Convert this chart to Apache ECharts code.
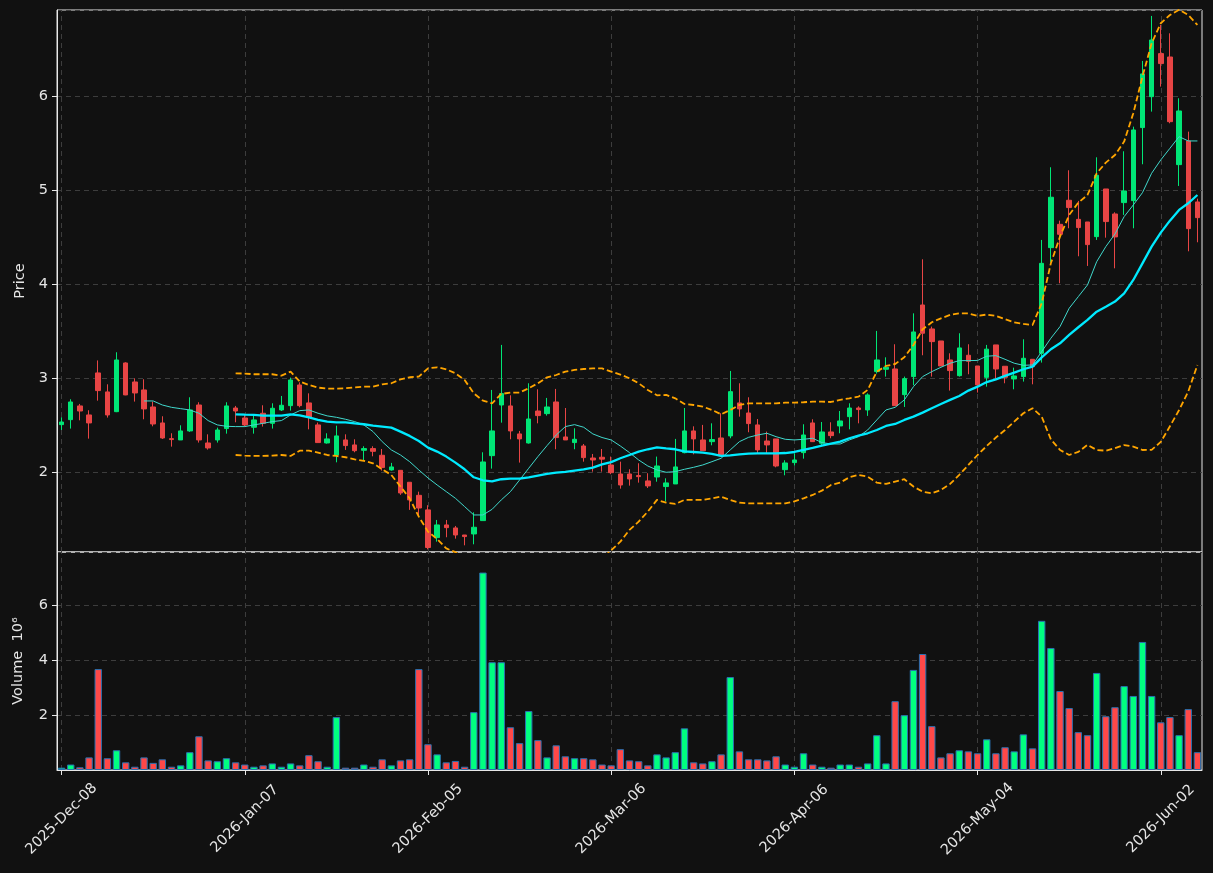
<!DOCTYPE html>
<html><head><meta charset="utf-8">
<script src="https://cdn.jsdelivr.net/npm/echarts@6/dist/echarts.min.js"></script>
<style>html,body{margin:0;padding:0;background:#111111;}#c{width:1213px;height:873px;}</style>
</head><body><div id="c"></div>
<script>
const dates = [
"2025-Dec-08","2025-Dec-09","2025-Dec-10","2025-Dec-11","2025-Dec-12","2025-Dec-15","2025-Dec-16","2025-Dec-17","2025-Dec-18","2025-Dec-19",
"2025-Dec-22","2025-Dec-23","2025-Dec-24","2025-Dec-26","2025-Dec-29","2025-Dec-30","2025-Dec-31","2026-Jan-02","2026-Jan-05","2026-Jan-06",
"2026-Jan-07","2026-Jan-08","2026-Jan-09","2026-Jan-12","2026-Jan-13","2026-Jan-14","2026-Jan-15","2026-Jan-16","2026-Jan-20","2026-Jan-21",
"2026-Jan-22","2026-Jan-23","2026-Jan-26","2026-Jan-27","2026-Jan-28","2026-Jan-29","2026-Jan-30","2026-Feb-02","2026-Feb-03","2026-Feb-04",
"2026-Feb-05","2026-Feb-06","2026-Feb-09","2026-Feb-10","2026-Feb-11","2026-Feb-12","2026-Feb-13","2026-Feb-17","2026-Feb-18","2026-Feb-19",
"2026-Feb-20","2026-Feb-23","2026-Feb-24","2026-Feb-25","2026-Feb-26","2026-Feb-27","2026-Mar-02","2026-Mar-03","2026-Mar-04","2026-Mar-05",
"2026-Mar-06","2026-Mar-09","2026-Mar-10","2026-Mar-11","2026-Mar-12","2026-Mar-13","2026-Mar-16","2026-Mar-17","2026-Mar-18","2026-Mar-19",
"2026-Mar-20","2026-Mar-23","2026-Mar-24","2026-Mar-25","2026-Mar-26","2026-Mar-27","2026-Mar-30","2026-Mar-31","2026-Apr-01","2026-Apr-02",
"2026-Apr-06","2026-Apr-07","2026-Apr-08","2026-Apr-09","2026-Apr-10","2026-Apr-13","2026-Apr-14","2026-Apr-15","2026-Apr-16","2026-Apr-17",
"2026-Apr-20","2026-Apr-21","2026-Apr-22","2026-Apr-23","2026-Apr-24","2026-Apr-27","2026-Apr-28","2026-Apr-29","2026-Apr-30","2026-May-01",
"2026-May-04","2026-May-05","2026-May-06","2026-May-07","2026-May-08","2026-May-11","2026-May-12","2026-May-13","2026-May-14","2026-May-15",
"2026-May-18","2026-May-19","2026-May-20","2026-May-21","2026-May-22","2026-May-26","2026-May-27","2026-May-28","2026-May-29","2026-Jun-01",
"2026-Jun-02","2026-Jun-03","2026-Jun-04","2026-Jun-05","2026-Jun-08"];

// dates that carry a tick label / vertical grid line
const tickDates = ["2025-Dec-08","2026-Jan-07","2026-Feb-05","2026-Mar-06","2026-Apr-06","2026-May-04","2026-Jun-02"];

const opens = [
2.507,2.56,2.706,2.61,3.057,2.855,2.645,3.163,2.961,2.876,
2.695,2.525,2.358,2.344,2.44,2.716,2.312,2.344,2.465,2.684,
2.578,2.479,2.628,2.521,2.663,2.709,2.929,2.738,2.504,2.312,
2.184,2.344,2.291,2.234,2.252,2.181,2.025,2.021,1.894,1.755,
1.6,1.305,1.44,1.408,1.333,1.344,1.486,2.177,2.716,2.706,
2.408,2.312,2.652,2.624,2.748,2.376,2.316,2.28,2.152,2.16,
2.078,1.982,1.982,1.965,1.908,1.95,1.848,1.876,2.209,2.44,
2.344,2.326,2.365,2.387,2.738,2.631,2.504,2.333,2.355,2.028,
2.103,2.209,2.525,2.309,2.429,2.493,2.592,2.684,2.663,3.071,
3.096,3.099,2.826,3.018,3.78,3.525,3.397,3.195,3.028,3.245,
3.131,3.01,3.355,3.128,2.993,3.018,3.202,3.266,4.39,4.638,
4.894,4.691,4.663,4.507,5.014,4.748,4.869,4.89,5.667,5.996,
6.454,6.418,5.273,5.525,4.876];
const closes = [
2.535,2.748,2.652,2.525,2.869,2.61,3.195,2.823,2.844,2.674,
2.514,2.365,2.348,2.44,2.663,2.344,2.259,2.45,2.706,2.652,
2.504,2.557,2.521,2.681,2.713,2.982,2.709,2.585,2.316,2.355,
2.387,2.284,2.23,2.252,2.223,2.05,2.057,1.78,1.706,1.62,
1.2,1.44,1.411,1.333,1.316,1.415,2.11,2.44,2.837,2.44,
2.355,2.567,2.603,2.695,2.369,2.344,2.351,2.156,2.131,2.14,
1.996,1.865,1.929,1.954,1.855,2.067,1.887,2.057,2.44,2.355,
2.23,2.348,2.174,2.858,2.674,2.518,2.238,2.291,2.067,2.099,
2.131,2.397,2.326,2.429,2.39,2.546,2.684,2.667,2.823,3.195,
3.117,2.709,2.996,3.493,3.479,3.39,3.131,3.082,3.323,3.181,
2.929,3.31,3.099,3.011,3.025,3.213,3.124,4.223,4.926,4.532,
4.816,4.603,4.422,5.16,4.667,4.504,4.993,5.642,6.238,6.599,
6.348,5.73,5.844,4.592,4.709];
const lows = [
2.45,2.465,2.553,2.358,2.762,2.582,2.64,2.82,2.752,2.564,
2.489,2.355,2.273,2.344,2.43,2.316,2.241,2.316,2.411,2.532,
2.486,2.411,2.486,2.465,2.652,2.656,2.691,2.457,2.316,2.305,
2.106,2.238,2.213,2.128,2.17,2.018,2.018,1.76,1.6,1.54,
1.18,1.262,1.309,1.294,1.223,1.234,1.486,2.039,2.528,2.351,
2.103,2.305,2.521,2.603,2.245,2.344,2.245,2.113,2.007,2.007,
1.98,1.826,1.858,1.89,1.833,1.9,1.691,1.876,2.202,2.191,
2.23,2.287,2.174,2.362,2.592,2.426,2.202,2.202,2.053,1.968,
2.071,2.145,2.326,2.291,2.362,2.415,2.457,2.521,2.6,3.05,
3.018,2.709,2.695,2.926,3.245,3.018,3.131,2.869,3.018,3.043,
2.848,2.911,2.993,2.947,2.883,2.965,2.936,3.167,4.238,4.011,
4.596,4.298,4.195,4.472,4.496,4.17,4.738,4.596,5.277,5.837,
6.103,5.713,5.046,4.351,4.447];
const highs = [
2.585,2.777,2.727,2.66,3.19,2.936,3.277,3.17,3.0,2.99,
2.752,2.596,2.415,2.5,2.798,2.745,2.404,2.475,2.745,2.706,
2.613,2.6,2.713,2.734,2.812,3.007,2.957,2.84,2.529,2.415,
2.496,2.404,2.351,2.277,2.277,2.248,2.1,2.021,1.894,1.794,
1.65,1.493,1.493,1.429,1.333,1.574,2.213,2.876,3.355,2.819,
2.44,2.947,2.883,2.791,2.887,2.684,2.468,2.301,2.195,2.248,
2.167,2.113,2.032,2.096,1.99,2.167,1.936,2.355,2.684,2.489,
2.504,2.521,2.628,3.078,2.947,2.798,2.567,2.433,2.355,2.128,
2.202,2.511,2.564,2.535,2.532,2.652,2.734,2.702,2.84,3.504,
3.223,3.362,3.018,3.691,4.266,3.55,3.397,3.266,3.479,3.362,
3.131,3.355,3.355,3.128,3.113,3.415,3.202,4.472,5.245,4.677,
5.213,4.887,4.663,5.351,5.014,4.766,5.415,5.677,6.376,6.855,
6.759,6.67,5.979,5.624,4.911];

// volume in millions of shares
const volumes = [
0.085,0.2,0.1,0.46,3.68,0.43,0.72,0.28,0.12,0.46,
0.26,0.39,0.12,0.17,0.65,1.23,0.35,0.32,0.43,0.28,
0.2,0.12,0.17,0.24,0.12,0.24,0.17,0.54,0.32,0.12,
1.93,0.085,0.085,0.2,0.12,0.39,0.17,0.35,0.39,3.68,
0.94,0.57,0.28,0.33,0.12,2.11,7.2,3.93,3.93,1.56,
0.98,2.15,1.09,0.46,0.9,0.5,0.43,0.43,0.39,0.2,
0.17,0.76,0.35,0.32,0.17,0.57,0.46,0.65,1.52,0.28,
0.24,0.32,0.57,3.39,0.68,0.39,0.39,0.35,0.5,0.2,
0.12,0.61,0.2,0.12,0.085,0.2,0.2,0.12,0.24,1.27,
0.24,2.51,2.0,3.65,4.23,1.6,0.46,0.61,0.72,0.68,
0.61,1.12,0.61,0.83,0.68,1.3,0.79,5.44,4.45,2.88,
2.26,1.38,1.27,3.54,1.96,2.29,3.06,2.7,4.67,2.7,
1.74,1.93,1.27,2.22,0.65];

// moving-average / band lines
const ma10 = [
null,null,null,null,null,null,null,null,null,2.759,
2.759,2.716,2.691,2.677,2.663,2.628,2.55,2.504,2.489,2.486,
2.486,2.504,2.521,2.539,2.55,2.61,2.656,2.663,2.628,2.6,
2.585,2.564,2.539,2.504,2.433,2.326,2.238,2.184,2.113,2.025,
1.94,1.865,1.794,1.723,1.635,1.546,1.546,1.606,1.706,1.794,
1.918,2.043,2.167,2.284,2.397,2.486,2.507,2.479,2.408,2.37,
2.344,2.28,2.209,2.131,2.067,2.025,2.0,2.007,2.032,2.053,
2.078,2.113,2.149,2.238,2.326,2.372,2.397,2.415,2.379,2.351,
2.344,2.351,2.362,2.316,2.301,2.301,2.344,2.379,2.45,2.557,
2.663,2.691,2.77,2.911,3.018,3.071,3.117,3.16,3.188,3.188,
3.19,3.235,3.241,3.202,3.16,3.138,3.142,3.284,3.426,3.55,
3.745,3.869,3.993,4.24,4.401,4.535,4.72,4.844,4.975,5.181,
5.323,5.447,5.571,5.525,5.525];
const ma20 = [
null,null,null,null,null,null,null,null,null,null,
null,null,null,null,null,null,null,null,null,2.617,
2.613,2.61,2.603,2.603,2.603,2.617,2.606,2.585,2.557,2.539,
2.532,2.532,2.521,2.511,2.496,2.486,2.475,2.433,2.387,2.333,
2.262,2.22,2.167,2.103,2.032,1.947,1.915,1.904,1.926,1.933,
1.933,1.947,1.965,1.982,1.996,2.004,2.018,2.032,2.05,2.085,
2.108,2.149,2.184,2.22,2.245,2.266,2.255,2.245,2.223,2.216,
2.209,2.195,2.174,2.181,2.191,2.199,2.202,2.202,2.202,2.205,
2.216,2.238,2.259,2.284,2.305,2.326,2.362,2.39,2.415,2.45,
2.493,2.514,2.557,2.592,2.635,2.681,2.727,2.77,2.812,2.869,
2.911,2.96,2.989,3.025,3.06,3.096,3.124,3.223,3.309,3.372,
3.461,3.543,3.621,3.709,3.762,3.816,3.904,4.046,4.223,4.401,
4.55,4.677,4.791,4.862,4.95];
const bbUpper = [
null,null,null,null,null,null,null,null,null,null,
null,null,null,null,null,null,null,null,null,3.053,
3.05,3.043,3.043,3.043,3.028,3.071,2.965,2.929,2.901,2.89,
2.89,2.894,2.904,2.911,2.911,2.936,2.947,2.989,3.011,3.018,
3.106,3.117,3.096,3.053,2.982,2.84,2.762,2.734,2.833,2.848,
2.848,2.894,2.947,3.011,3.035,3.071,3.089,3.099,3.106,3.106,
3.071,3.04,3.0,2.947,2.876,2.819,2.823,2.787,2.727,2.716,
2.699,2.663,2.617,2.663,2.716,2.734,2.734,2.734,2.734,2.741,
2.741,2.745,2.752,2.752,2.748,2.77,2.787,2.805,2.876,3.071,
3.131,3.152,3.223,3.355,3.521,3.596,3.638,3.674,3.691,3.691,
3.663,3.678,3.663,3.628,3.596,3.578,3.567,3.798,4.223,4.507,
4.738,4.869,4.95,5.181,5.294,5.376,5.518,5.819,6.209,6.564,
6.777,6.865,6.92,6.865,6.759];
const bbLower = [
null,null,null,null,null,null,null,null,null,null,
null,null,null,null,null,null,null,null,null,2.184,
2.177,2.174,2.174,2.177,2.184,2.174,2.23,2.23,2.209,2.184,
2.174,2.16,2.138,2.121,2.096,2.032,1.972,1.848,1.723,1.528,
1.369,1.29,1.19,1.15,1.08,1.05,1.07,1.07,1.02,1.02,
1.02,1.0,0.98,0.95,0.96,0.94,0.95,0.97,1.0,1.08,
1.17,1.262,1.387,1.475,1.582,1.706,1.677,1.663,1.706,1.706,
1.706,1.723,1.741,1.706,1.677,1.67,1.67,1.67,1.67,1.67,
1.69,1.723,1.759,1.805,1.865,1.89,1.947,1.972,1.954,1.89,
1.876,1.901,1.926,1.848,1.794,1.777,1.812,1.876,1.972,2.078,
2.184,2.28,2.37,2.45,2.539,2.628,2.681,2.592,2.35,2.237,
2.184,2.217,2.292,2.237,2.23,2.256,2.29,2.273,2.237,2.238,
2.323,2.489,2.662,2.859,3.141];

const UP = '#00e676', DOWN = '#e84545';
const VUP = '#00ff80', VDOWN = '#ff4848', VEDGE = '#2a70b0';
const TXT = '#e6e6e6', GRIDC = '#3d3d3d', FRAME = '#e8e8e8';
const FS = 14.5;

const candleData = dates.map((d, i) => [opens[i], closes[i], lows[i], highs[i]]);
const volData = volumes.map((v, i) => ({
  value: v,
  itemStyle: { color: closes[i] >= opens[i] ? VUP : VDOWN }
}));
const isTick = (idx, val) => tickDates.indexOf(val) >= 0;
const vGrid = {
  silent: true, z: 1, symbol: ['none', 'none'], label: { show: false },
  lineStyle: { color: GRIDC, type: [5, 4], width: 1 },
  emphasis: { disabled: true },
  data: tickDates.map(d => ({ xAxis: d }))
};

const chart = echarts.init(document.getElementById('c'), null, { renderer: 'canvas' });
chart.setOption({
  backgroundColor: '#111111',
  animation: false,
  textStyle: { fontFamily: 'DejaVu Sans' },
  grid: [
    { left: 57, right: 11, top: 10, height: 542, show: true, borderColor: FRAME, borderWidth: 1,
      backgroundColor: 'transparent', outerBoundsMode: 'none', containLabel: false },
    { left: 57, right: 11, top: 552, height: 218, show: true, borderColor: FRAME, borderWidth: 1,
      backgroundColor: 'transparent', outerBoundsMode: 'none', containLabel: false }
  ],
  xAxis: [
    { type: 'category', data: dates, boundaryGap: true, gridIndex: 0,
      axisLine: { show: false }, axisTick: { show: false }, axisLabel: { show: false }, splitLine: { show: false } },
    { type: 'category', data: dates, boundaryGap: true, gridIndex: 1,
      axisLine: { show: true, lineStyle: { color: FRAME } },
      axisTick: { show: true, interval: isTick, alignWithLabel: true, length: 5, lineStyle: { color: FRAME } },
      axisLabel: { interval: isTick, rotate: 45, color: TXT, fontSize: FS, margin: 49,
                   align: 'center', verticalAlign: 'middle' },
      splitLine: { show: false } }
  ],
  yAxis: [
    {
      gridIndex: 0, type: 'value', min: 1.152, max: 6.918, splitNumber: 5,
      axisLine: { show: true, lineStyle: { color: FRAME } },
      axisTick: { show: true, length: 5, lineStyle: { color: FRAME } },
      axisLabel: { color: TXT, fontSize: FS, margin: 9, showMinLabel: false, showMaxLabel: false },
      splitLine: { show: true, lineStyle: { color: GRIDC, type: [5, 4], width: 1 } },
      name: 'Price', nameLocation: 'middle', nameGap: 28,
      nameTextStyle: { color: TXT, fontSize: FS }
    },
    {
      gridIndex: 1, type: 'value', min: 0, max: 7.95, splitNumber: 4,
      axisLine: { show: true, lineStyle: { color: FRAME } },
      axisTick: { show: true, length: 5, lineStyle: { color: FRAME } },
      axisLabel: { color: TXT, fontSize: FS, margin: 9, showMinLabel: false, showMaxLabel: false },
      splitLine: { show: true, lineStyle: { color: GRIDC, type: [5, 4], width: 1 } },
      name: 'Volume  10\u2076', nameLocation: 'middle', nameGap: 31,
      nameTextStyle: { color: TXT, fontSize: FS }
    }
  ],
  series: [
    {
      type: 'candlestick', xAxisIndex: 0, yAxisIndex: 0, data: candleData, barWidth: 5, z: 2,
      itemStyle: { color: UP, color0: DOWN, borderColor: UP, borderColor0: DOWN, borderWidth: 1 },
      markLine: vGrid
    },
    { type: 'line', xAxisIndex: 0, yAxisIndex: 0, data: ma10, symbol: 'none',
      lineStyle: { color: '#40d8cc', width: 1 }, z: 3 },
    { type: 'line', xAxisIndex: 0, yAxisIndex: 0, data: ma20, symbol: 'none',
      lineStyle: { color: '#00eaff', width: 2.3 }, z: 3 },
    { type: 'line', xAxisIndex: 0, yAxisIndex: 0, data: bbUpper, symbol: 'none',
      lineStyle: { color: '#ffa500', width: 1.8, type: [6, 3] }, z: 4 },
    { type: 'line', xAxisIndex: 0, yAxisIndex: 0, data: bbLower, symbol: 'none', clip: true,
      lineStyle: { color: '#ffa500', width: 1.8, type: [6, 3] }, z: 4 },
    {
      type: 'bar', xAxisIndex: 1, yAxisIndex: 1, data: volData, barWidth: 7.4, z: 2,
      itemStyle: { borderColor: VEDGE, borderWidth: 1 },
      markLine: vGrid
    }
  ]
});
</script>
</body></html>
